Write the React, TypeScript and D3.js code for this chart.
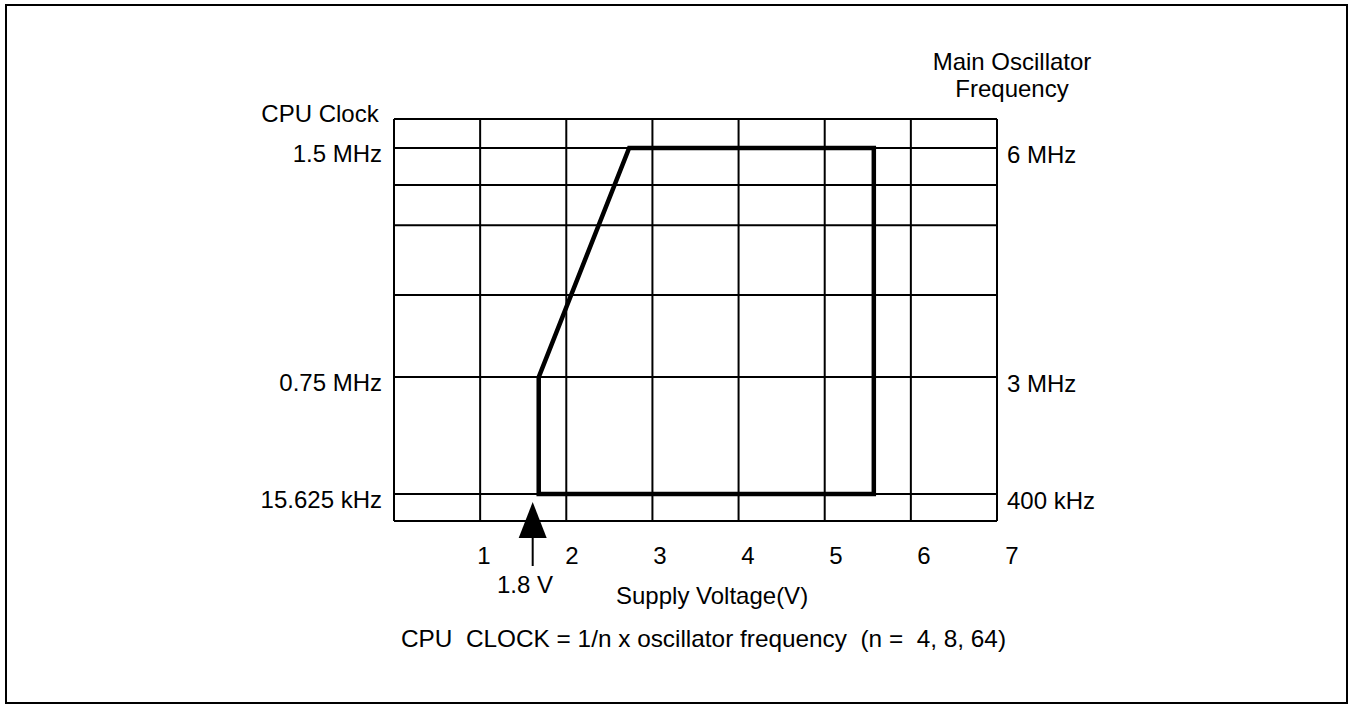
import * as d3 from "d3";

// supply voltage grid (V)
const voltTicks = [0, 1, 2, 3, 4, 5, 6, 7];
const voltLabels = ["1", "2", "3", "4", "5", "6", "7"];
// vertical axis is schematic: grid rows as fraction of plot height
const rowLevels = [0, 0.067, 0.358, 0.562, 0.736, 0.836, 0.928, 1];
const cpuLabels = ["15.625 kHz", "0.75 MHz", "1.5 MHz"];
const oscLabels = ["400 kHz", "3 MHz", "6 MHz"];
const labelLevels = [0.067, 0.358, 0.928];
// operating region outline (V, level)
const regionV = [1.68, 1.68, 2.73, 5.57, 5.57];
const regionL = [0.067, 0.358, 0.928, 0.928, 0.067];
const minVoltArrow = 1.61;

const W = 1353;
const H = 707;
const FONT = "'Liberation Sans', Arial, sans-serif";

export default function App() {
  const x = d3.scaleLinear().domain([0, 7]).range([394, 997]);
  // the tick numbers sit a little right of the grid lines in the original
  const xLab = d3.scaleLinear().domain([0, 7]).range([396, 1012]);
  const y = d3.scaleLinear().domain([0, 1]).range([521, 119]);

  const pts: [number, number][] = regionV.map((v, i) => [x(v), y(regionL[i])]);
  const outline = d3.line()(pts) + "Z";

  const ax = x(minVoltArrow);
  const tipY = y(0) - 19;

  return (
    <svg
      width={W}
      height={H}
      style={{ position: "absolute", left: 0, top: 0, background: "#fff" }}
      fontFamily={FONT}
      fontSize={24}
    >
      <rect x={6} y={5} width={1341} height={698} fill="none" stroke="#000" strokeWidth={2} />

      {/* grid */}
      <g stroke="#000" strokeWidth={2}>
        {voltTicks.map((v) => (
          <line key={"v" + v} x1={x(v)} x2={x(v)} y1={y(1)} y2={y(0)} />
        ))}
        {rowLevels.map((l) => (
          <line key={"h" + l} x1={x(0)} x2={x(7)} y1={y(l)} y2={y(l)} />
        ))}
      </g>

      <path d={outline} fill="none" stroke="#000" strokeWidth={4.5} strokeLinejoin="miter" />

      {/* left / right labels */}
      {cpuLabels.map((t, i) => (
        <text key={t} x={x(0) - 12} y={y(labelLevels[i]) + 14} textAnchor="end">
          {t}
        </text>
      ))}
      {oscLabels.map((t, i) => (
        <text key={t} x={x(7) + 10} y={y(labelLevels[i]) + 15}>
          {t}
        </text>
      ))}
      <text x={320} y={122} textAnchor="middle">CPU Clock</text>
      <text x={1012} y={70} textAnchor="middle">Main Oscillator</text>
      <text x={1012} y={97} textAnchor="middle">Frequency</text>

      {/* voltage tick labels */}
      {voltLabels.map((t) => (
        <text key={t} x={xLab(+t)} y={564} textAnchor="middle">
          {t}
        </text>
      ))}

      {/* 1.8 V arrow */}
      <path
        d={`M${ax},${tipY}L${ax + 14},${tipY + 36}L${ax - 14},${tipY + 36}Z`}
        fill="#000"
      />
      <line x1={ax} x2={ax} y1={tipY + 30} y2={566} stroke="#000" strokeWidth={2} />
      <text x={525} y={593} textAnchor="middle">1.8 V</text>

      <text x={616} y={604}>Supply Voltage(V)</text>
      <text
        x={401}
        y={647}
        textLength={605}
        lengthAdjust="spacingAndGlyphs"
        style={{ whiteSpace: "pre" }}
      >
        {"CPU  CLOCK = 1/n x oscillator frequency  (n =  4, 8, 64)"}
      </text>
    </svg>
  );
}
